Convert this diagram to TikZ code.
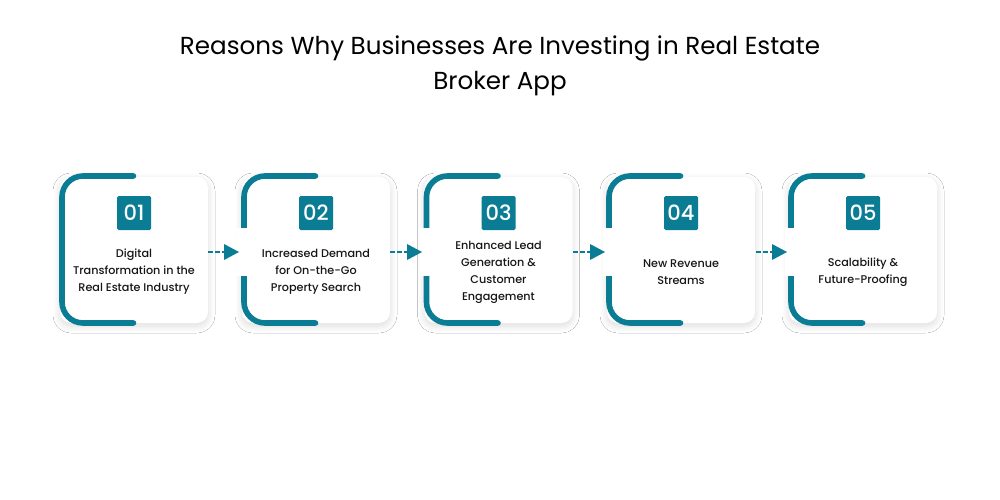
\documentclass[tikz,border=0pt]{standalone}
\usepackage{fontspec}
\setmainfont{Poppins}
\usetikzlibrary{shadows.blur,arrows.meta}
\definecolor{teal1}{HTML}{0A7C93}
\definecolor{ink}{HTML}{161616}
\tikzset{x=1pt,y=-1pt,
 cardbox/.style={fill=white,rounded corners=11pt,minimum width=148pt,minimum height=146pt,blur shadow={shadow blur steps=10,shadow blur radius=7pt,shadow xshift=0pt,shadow yshift=-3pt,shadow opacity=14}},
 numbox/.style={fill=teal1,text=white,rounded corners=1.5pt,minimum width=34pt,minimum height=34pt,inner sep=0pt,font=\fontsize{21}{21}\selectfont\fontspec{Poppins Medium}},
 cardtext/.style={text=ink,align=center,font=\fontsize{11.2}{17}\selectfont\fontspec{Poppins Medium},inner sep=0pt},
 accent/.style={draw=teal1,line width=5.6pt,line cap=round,rounded corners=21pt},
 flow/.style={draw=teal1,line width=2.4pt,dash pattern=on 4.5pt off 2.5pt},
 flowtip/.style={fill=teal1},
}
\begin{document}
\begin{tikzpicture}
\useasboundingbox (0,0) rectangle (1000,500);
\fill[white] (0,0) rectangle (1000,500);
\node[text=black,align=center,font=\fontsize{24.6}{35}\selectfont,inner sep=0pt] (title) at (500,66) {Reasons Why Businesses Are Investing in Real Estate\\Broker App};
\foreach \n/\cx/\num/\txt in {a/134/01/{Digital\\Transformation in the\\Real Estate Industry},b/316/02/{Increased Demand\\for On-the-Go\\Property Search},c/498.5/03/{Enhanced Lead\\Generation \&\\Customer\\Engagement},d/681/04/{New Revenue\\Streams},e/863/05/{Scalability \&\\Future-Proofing}}{
 \node[cardbox] (card\n) at (\cx,250) {};
 \draw[accent] (\cx-0.5,176) -- (\cx-72,176) -- (\cx-72,323) -- (\cx-0.5,323);
 \node[numbox] (num\n) at (\cx,213) {\num};
 \node[cardtext] (text\n) at (\cx,272) {\txt};
}
\foreach \a/\b/\ax/\bx in {a/b/208/241,b/c/390/424,c/d/573/607,d/e/756/789}{
 \fill[white] (\bx-4,228) rectangle (\bx+10,276);
 \coordinate (s\a) at (\ax,252);
 \coordinate (t\a) at (\bx-2,252);
 \draw[flow] (s\a) -- ([xshift=-14pt]t\a);
 \fill[flowtip] ([xshift=-15pt]t\a) ++(0,-8) -- (t\a) -- ([xshift=-15pt,yshift=-8pt]t\a) -- cycle;
}
\end{tikzpicture}
\end{document}
